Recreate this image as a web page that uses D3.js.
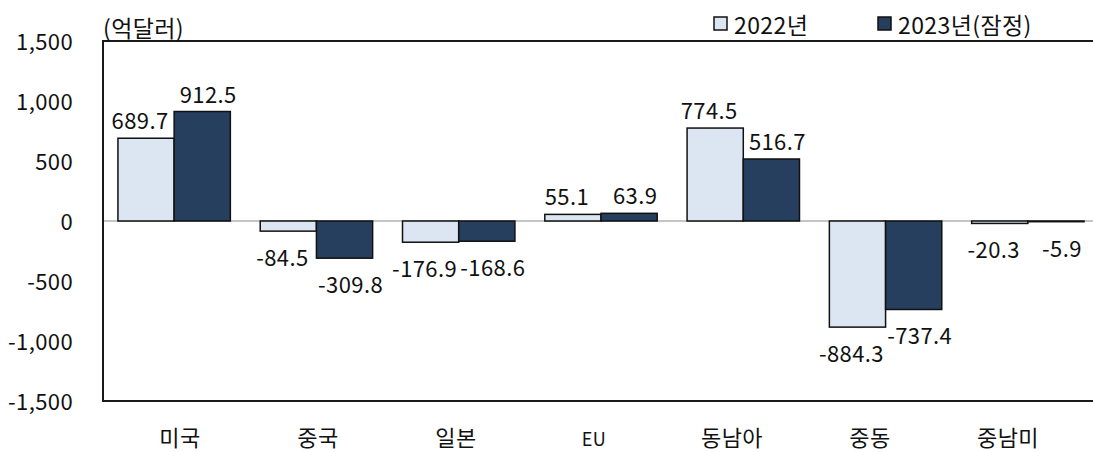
<!DOCTYPE html>
<html>
<head>
<meta charset="utf-8">
<script src="https://cdn.jsdelivr.net/npm/d3@7"></script>
<style>
    body { margin: 0; background: #fff; }
    svg { display: block; font-family: "Noto Sans CJK KR", "Open Sans", sans-serif; }
</style>
</head>
<body>
<script>
const categories = ['미국', '중국', '일본', 'EU', '동남아', '중동', '중남미'];
const seriesNames = ['2022년', '2023년(잠정)'];
const values2022 = [689.7, -84.5, -176.9, 55.1, 774.5, -884.3, -20.3];
const values2023 = [912.5, -309.8, -168.6, 63.9, 516.7, -737.4, -5.9];
const yTicks = [-1500, -1000, -500, 0, 500, 1000, 1500];
const unitLabel = '(억달러)';

const colors = ['#dce6f2', '#263f5f'];

var width = 1093,
    height = 452,
    plotLeft = 103,
    plotRight = 1099,
    plotTop = 41,
    plotBottom = 401,
    fontSize = 22,
    spacing = '0.4px';

var svg = d3.select('body').append('svg')
    .attr('width', width)
    .attr('height', height);

var x0 = d3.scaleBand()
    .domain(categories)
    .range([plotLeft, plotRight])
    .paddingInner(0.21)
    .paddingOuter(0.105);

var x1 = d3.scaleBand()
    .domain(seriesNames)
    .range([0, x0.bandwidth()]);

// category labels in the source sit on a slightly tighter spacing than the bars
var xLabel = d3.scalePoint()
    .domain(categories)
    .range([180, 1008]);

var y = d3.scaleLinear()
    .domain([-1500, 1500])
    .range([plotBottom, plotTop]);

var rows = categories.map((c, i) => ({ cat: c, vals: [values2022[i], values2023[i]] }));

// zero line
svg.append('line')
    .attr('x1', plotLeft).attr('x2', width)
    .attr('y1', y(0)).attr('y2', y(0))
    .attr('stroke', '#8c8c8c')
    .attr('stroke-width', 1.2);

var groups = svg.selectAll('g.cat')
    .data(rows)
    .enter()
    .append('g')
    .attr('class', 'cat')
    .attr('transform', d => `translate(${x0(d.cat)},0)`);

groups.selectAll('rect')
    .data(d => d.vals.map((v, j) => ({ v: v, s: seriesNames[j], j: j })))
    .enter()
    .append('rect')
    .attr('x', d => x1(d.s))
    .attr('y', d => y(Math.max(0, d.v)))
    .attr('width', x1.bandwidth())
    .attr('height', d => Math.abs(y(d.v) - y(0)))
    .attr('fill', d => colors[d.j])
    .attr('stroke', '#111')
    .attr('stroke-width', 1.5);

// labels of the two series are pushed slightly apart, as in the source
groups.selectAll('text')
    .data(d => d.vals.map((v, j) => ({ v: v, s: seriesNames[j], j: j })))
    .enter()
    .append('text')
    .attr('x', d => x1(d.s) + x1.bandwidth() / 2 + (d.j === 0 ? -6 : 6))
    .attr('y', d => d.v >= 0 ? y(d.v) - 9 : y(d.v) + 35)
    .attr('text-anchor', 'middle')
    .attr('font-size', fontSize)
    .attr('letter-spacing', spacing)
    .attr('fill', '#111')
    .text(d => d.v.toFixed(1));

// frame: left, top, bottom
svg.append('path')
    .attr('d', `M${width},${plotTop}H${plotLeft}V${plotBottom}H${width}`)
    .attr('fill', 'none')
    .attr('stroke', '#1a1a1a')
    .attr('stroke-width', 2);

var yAxis = d3.axisLeft(y)
    .tickValues(yTicks)
    .tickSize(0)
    .tickPadding(30)
    .tickFormat(d => d3.format(',')(d).replace('−', '-'));

svg.append('g')
    .attr('transform', `translate(${plotLeft},0)`)
    .call(yAxis)
    .call(g => g.select('.domain').remove())
    .call(g => g.selectAll('text')
        .attr('font-size', fontSize)
        .attr('letter-spacing', spacing)
        .attr('font-family', '"Noto Sans CJK KR", sans-serif')
        .attr('fill', '#111')
        .attr('dy', '0.4em'));

svg.append('g')
    .selectAll('text')
    .data(categories)
    .enter()
    .append('text')
    .attr('x', d => xLabel(d))
    .attr('y', 446)
    .attr('text-anchor', 'middle')
    .attr('font-size', d => d === 'EU' ? 18 : fontSize)
    .attr('letter-spacing', spacing)
    .attr('fill', '#111')
    .text(d => d);

svg.append('text')
    .attr('x', plotLeft)
    .attr('y', 37)
    .attr('font-size', 23)
    .attr('letter-spacing', spacing)
    .attr('fill', '#111')
    .text(unitLabel);

// legend
var legendX = [714, 878];
var legend = svg.selectAll('g.legend')
    .data(seriesNames)
    .enter()
    .append('g')
    .attr('class', 'legend')
    .attr('transform', (d, i) => `translate(${legendX[i]},17)`);

legend.append('rect')
    .attr('width', 13)
    .attr('height', 13)
    .attr('fill', (d, i) => colors[i])
    .attr('stroke', '#111')
    .attr('stroke-width', 1.5);

legend.append('text')
    .attr('x', 20)
    .attr('y', 17)
    .attr('font-size', 23)
    .attr('letter-spacing', spacing)
    .attr('fill', '#111')
    .text(d => d);
</script>
</body>
</html>
